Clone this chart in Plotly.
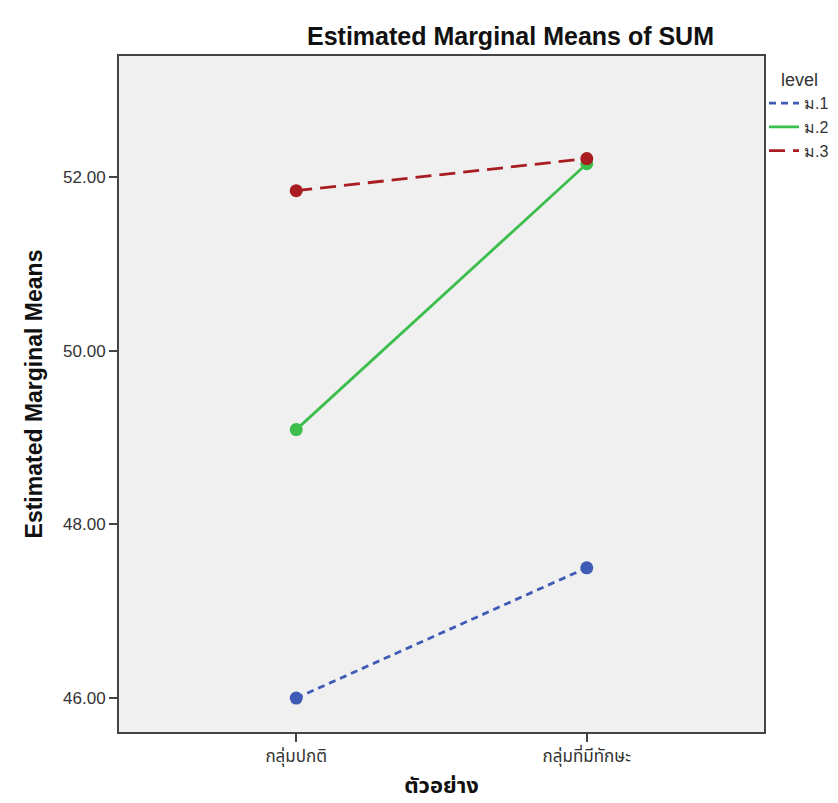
import plotly.graph_objects as go

categories = ["กลุ่มปกติ", "กลุ่มที่มีทักษะ"]
levels = ["ม.1", "ม.2", "ม.3"]
m1 = [46.00, 47.50]
m2 = [49.09, 52.15]
m3 = [51.84, 52.21]
series = [m1, m2, m3]
colors = ["#3F5BB5", "#3CBE4C", "#A81C22"]
dashes = ["7px,5px", "solid", "16px,8px"]
yticks = [46, 48, 50, 52]
ytick_text = ["46.00", "48.00", "50.00", "52.00"]

fig = go.Figure()
for name, vals, c, d in zip(levels, series, colors, dashes):
    fig.add_trace(go.Scatter(
        x=categories, y=vals, mode="lines+markers", name=name,
        line=dict(color=c, width=2.8, dash=d),
        marker=dict(color=c, size=13),
        showlegend=False,
    ))
for name, c, d in zip(levels, colors, dashes):
    fig.add_trace(go.Scatter(
        x=[None], y=[None], mode="lines", name=name,
        line=dict(color=c, width=2.8, dash=d),
    ))

thai = "Noto Sans Thai, Noto Sans, sans-serif"
fig.update_layout(
    width=838, height=803,
    margin=dict(l=111, r=70, t=48, b=79),
    paper_bgcolor="white",
    plot_bgcolor="#F0F0F0",
    font=dict(family="Liberation Sans, Arial, sans-serif", color="#222"),
    title=dict(text="<b>Estimated Marginal Means of SUM</b>",
               font=dict(size=25, color="#111"),
               x=0.607, xanchor="center", xref="paper", y=0.965, yanchor="middle"),
    legend=dict(title=dict(text="&nbsp;&nbsp;&nbsp;level", font=dict(size=18, color="#333")),
                x=1.0, xanchor="left", y=0.99, yanchor="top",
                font=dict(size=16, color="#333"),
                bgcolor="rgba(0,0,0,0)", tracegroupgap=0, itemwidth=30),
    showlegend=True,
)
fig.update_xaxes(
    type="category", range=[-0.61, 1.61],
    showgrid=False, zeroline=False,
    showline=True, linecolor="#444", linewidth=2, mirror=True,
    ticks="outside", ticklen=8, tickcolor="#444", tickwidth=2,
    tickfont=dict(size=17, color="#333", family=thai),
    title=dict(text="<b>ตัวอย่าง</b>", font=dict(size=22, color="#111", family=thai), standoff=8),
)
fig.update_yaxes(
    range=[45.61, 53.39],
    tickvals=yticks, ticktext=ytick_text,
    showgrid=False, zeroline=False,
    showline=True, linecolor="#444", linewidth=2, mirror=True,
    ticks="outside", ticklen=8, tickcolor="#444", tickwidth=2,
    tickfont=dict(size=17, color="#333"),
    title=dict(text="<b>Estimated Marginal Means</b>", font=dict(size=23, color="#111"), standoff=14),
)

fig.write_html("out.html")
